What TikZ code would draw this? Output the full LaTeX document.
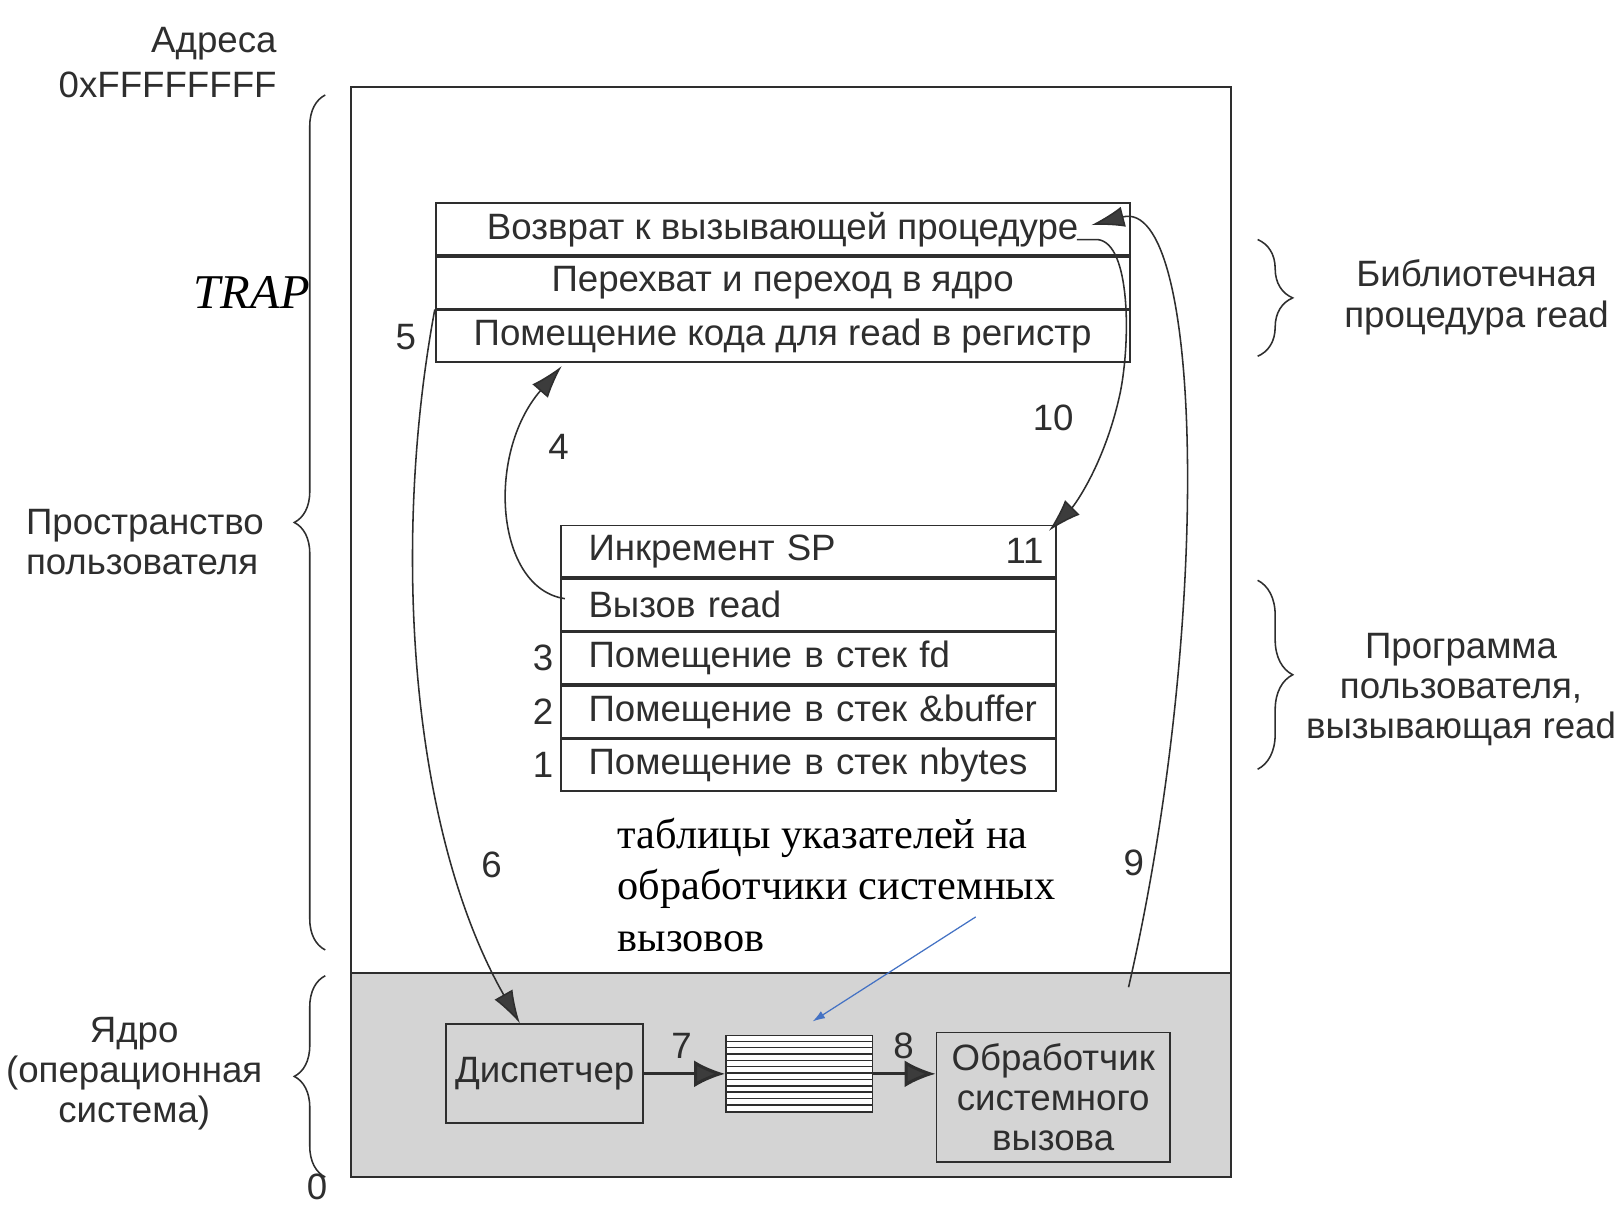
\documentclass[tikz,border=0pt]{standalone}
\usepackage{fontspec}
\setmainfont{Liberation Serif}
\setsansfont{Liberation Sans}
\usetikzlibrary{arrows.meta,decorations.pathreplacing,calc}
\definecolor{ink}{HTML}{2E2E2E}
\definecolor{headc}{HTML}{3C3C3C}
\definecolor{kern}{HTML}{D4D4D4}
\definecolor{blu}{HTML}{4472C4}
\tikzset{
  sf/.style={font=\sffamily\fontsize{35.5}{39}\selectfont},
  libcell/.style={draw=ink, line width=1.8pt, minimum width=672pt, minimum height=50pt, sf},
  ucell/.style={draw=ink, line width=1.8pt, minimum width=480pt, minimum height=50pt, text width=426pt, align=left, sf},
  kbox/.style={draw=ink, line width=1.8pt, sf, align=center},
  num/.style={sf},
  lab/.style={sf, align=center},
  curvearrow/.style={draw=ink, line width=1.5pt, -{Latex[length=32pt,width=20pt,fill=headc]}},
  fatarrow/.style={draw=ink, line width=3pt, -{Latex[length=30pt,width=26pt,fill=headc]}},
  bracestyle/.style={draw=ink, line width=1.5pt, decorate},
}
\begin{document}
\begin{tikzpicture}[x=1pt,y=-1pt, every node/.style={text=ink, inner sep=0pt}]
\useasboundingbox (0,0) rectangle (1568,1169);
\fill[white] (0,0) rectangle (1568,1169);

% memory frame and kernel region
\fill[kern] (340,942) rectangle (1192,1140);
\draw[ink, line width=1.8pt] (340,84) rectangle (1192,1140);
\draw[ink, line width=1.8pt] (340,942) -- (1192,942);

% library procedure
\node[libcell] (lib1) at (758,222) {Возврат к вызывающей процедуре};
\node[libcell, anchor=north] (lib2) at (lib1.south) {Перехват и переход в ядро};
\node[libcell, anchor=north] (lib3) at (lib2.south) {Помещение кода для read в регистр};

% user program
\node[ucell] (u1) at (783,534) {\mbox{Инкремент SP}};
\node[ucell, anchor=north] (u2) at (u1.south) {\mbox{Вызов read}};
\node[ucell, anchor=north] (u3) at (u2.south) {\mbox{Помещение в стек fd}};
\node[ucell, anchor=north] (u4) at (u3.south) {\mbox{Помещение в стек \&buffer}};
\node[ucell, anchor=north] (u5) at (u4.south) {\mbox{Помещение в стек nbytes}};
\node[num, anchor=east] (n11) at ($(u1.east)+(-13,0)$) {11};
\node[num, anchor=east] (n3) at ($(u3.west)+(-6,0)$) {3};
\node[num, anchor=east] (n2) at ($(u4.west)+(-6,0)$) {2};
\node[num, anchor=east] (n1) at ($(u5.west)+(-6,0)$) {1};

% kernel parts
\node[kbox, minimum width=191pt, minimum height=96pt] (disp) at (527.5,1040) {Диспетчер};
\node[draw=ink, line width=1.5pt, fill=white, minimum width=142pt, minimum height=74pt] (tbl) at (774,1040) {};
\foreach \i in {1,...,11}{
  \draw[ink, line width=1.4pt] ($(tbl.north west)+(0,\i*74/12)$) -- ($(tbl.north east)+(0,\i*74/12)$);
}
\node[kbox, minimum width=226pt, minimum height=125pt] (hand) at (1020,1062.5) {Обработчик\\системного\\вызова};
\draw[fatarrow] (disp.east) -- (tbl.west);
\draw[fatarrow] (tbl.east) -- (tbl.east -| hand.west);
\node[num] (n7) at (660,1013) {7};
\node[num] (n8) at (875,1013) {8};

% curved arrows
\coordinate (a4s) at ($(u2.west)+(5,-6)$);
\coordinate (a4e) at ($(lib3.south west)+(123,3)$);
\draw[curvearrow] (a4s) .. controls (480,570) and (470,440) .. (a4e);
\coordinate (a6e) at ($(disp.north)+(-24,0)$);
\draw[curvearrow] (lib3.north west) .. controls (380,520) and (395,800) .. (a6e);
\coordinate (a9s) at ($(hand.north)+(73,-43)$);
\coordinate (a9e) at ($(lib1.east)+(-38,-4)$);
\draw[curvearrow] (a9s) .. controls (1175,600) and (1165,190) .. (a9e);
\coordinate (a10s) at ($(lib1.east)+(-52,10)$);
\coordinate (a10e) at ($(u1.north east)+(-8,6)$);
\draw[curvearrow] (a10s) -- ++(20,0) .. controls (1095,235) and (1095,330) .. (1085,380) .. controls (1070,450) and (1040,490) .. (a10e);
\node[num] (n5) at (393,326) {5};
\node[num] (n4) at (541,433) {4};
\node[num] (n10) at (1020,405) {10};
\node[num] (n6) at (476,838) {6};
\node[num] (n9) at (1098,836) {9};

% blue pointer
\coordinate (bs) at (945,888);
\coordinate (be) at ($(tbl.north)+(13,-13)$);
\draw[blu, line width=1.2pt, -{Latex[length=12pt,width=8pt]}] (bs) -- (be);
\node[font=\rmfamily\fontsize{41}{50}\selectfont, text=black, align=left, anchor=west] (tabtxt) at (598,857) {таблицы указателей на\\обработчики системных\\вызовов};

% left side
\node[sf, anchor=east] (adr) at (268,42) {Адреса};
\node[sf, anchor=east] (hex) at (268,82) {0xFFFFFFFF};
\node[font=\rmfamily\itshape\fontsize{47}{50}\selectfont, text=black] (trap) at (244,283) {TRAP};
\node[sf, align=left, anchor=west] (usp) at (25,525) {Пространство\\пользователя};
\node[lab] (kern) at (130,1040) {Ядро\\(операционная\\система)};
\node[num] (zero) at (307,1149) {0};
\draw[bracestyle, decoration={brace, amplitude=30pt}] (315,920) -- (315,92);
\draw[bracestyle, decoration={brace, amplitude=30pt}] (315,1140) -- (315,945);

% right side
\draw[bracestyle, decoration={brace, amplitude=34pt}] (1218,232) -- (1218,345);
\draw[bracestyle, decoration={brace, amplitude=34pt}] (1218,562) -- (1218,745);
\node[lab] (libl) at (1430,288) {Библиотечная\\процедура read};
\node[lab] (progl) at (1415,668) {Программа\\пользователя,\\вызывающая read};
\end{tikzpicture}
\end{document}
